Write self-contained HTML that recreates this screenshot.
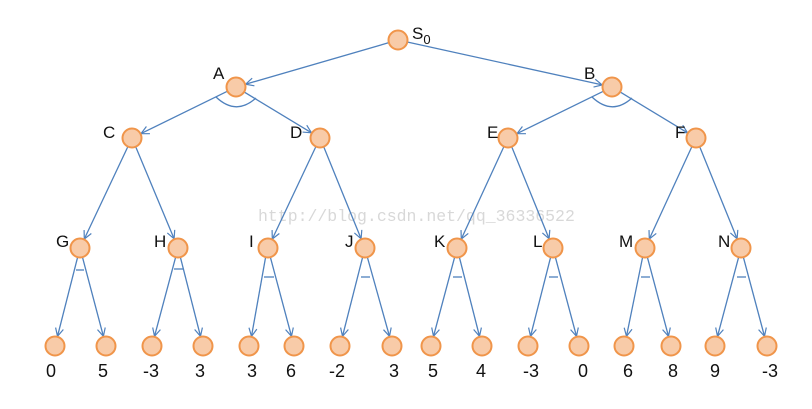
<!DOCTYPE html>
<html><head><meta charset="utf-8"><style>
html,body{margin:0;padding:0;background:#fff;}
svg{display:block;}
text{font-family:"Liberation Sans",sans-serif;fill:#111;}
</style></head><body>
<svg width="812" height="409" viewBox="0 0 812 409" xmlns="http://www.w3.org/2000/svg">
<defs>
<marker id="ar" markerWidth="10" markerHeight="10" refX="9" refY="5" orient="auto" markerUnits="userSpaceOnUse">
<path d="M1,1 L9,5 L1,9" fill="none" stroke="#4f81bd" stroke-width="1.2"/>
</marker>
</defs>
<text x="258" y="221" font-size="16.5" style="font-family:'Liberation Mono',monospace;fill:#d8d8d8">http://blog.csdn.net/qq_36336522</text>
<g stroke="#4f81bd" stroke-width="1.3" fill="none" marker-end="url(#ar)">
<line x1="388.4" y1="42.8" x2="245.6" y2="84.2"/>
<line x1="407.8" y1="42.1" x2="602.2" y2="84.9"/>
<line x1="227" y1="91.4" x2="141" y2="133.6"/>
<line x1="244.5" y1="92.2" x2="311.5" y2="132.8"/>
<line x1="603" y1="91.4" x2="517" y2="133.6"/>
<line x1="620.5" y1="92.2" x2="687.5" y2="132.8"/>
<line x1="127.7" y1="147" x2="84.3" y2="239"/>
<line x1="135.9" y1="147.2" x2="174.1" y2="238.8"/>
<line x1="315.7" y1="147" x2="272.3" y2="239"/>
<line x1="323.9" y1="147.2" x2="361.1" y2="238.8"/>
<line x1="503.7" y1="147" x2="461.3" y2="239"/>
<line x1="511.9" y1="147.2" x2="549.1" y2="238.8"/>
<line x1="691.7" y1="147" x2="649.3" y2="239"/>
<line x1="699.9" y1="147.2" x2="737.1" y2="238.8"/>
<line x1="77.5" y1="257.7" x2="57.5" y2="336.3"/>
<line x1="82.6" y1="257.7" x2="103.4" y2="336.3"/>
<line x1="175.5" y1="257.7" x2="154.5" y2="336.3"/>
<line x1="180.5" y1="257.7" x2="200.5" y2="336.3"/>
<line x1="265.5" y1="257.7" x2="251.5" y2="336.3"/>
<line x1="270.5" y1="257.7" x2="291.5" y2="336.3"/>
<line x1="362.5" y1="257.7" x2="342.5" y2="336.3"/>
<line x1="367.5" y1="257.7" x2="389.5" y2="336.3"/>
<line x1="454.5" y1="257.7" x2="433.5" y2="336.3"/>
<line x1="459.5" y1="257.7" x2="479.5" y2="336.3"/>
<line x1="550.5" y1="257.7" x2="530.5" y2="336.3"/>
<line x1="555.5" y1="257.7" x2="576.5" y2="336.3"/>
<line x1="642.5" y1="257.7" x2="626.5" y2="336.3"/>
<line x1="647.5" y1="257.7" x2="668.5" y2="336.3"/>
<line x1="738.5" y1="257.7" x2="717.5" y2="336.3"/>
<line x1="743.5" y1="257.7" x2="764.5" y2="336.3"/>
</g>
<g stroke="#4f81bd" stroke-width="1.3" fill="none">
<path d="M216,97 Q236,116 256,98"/>
<path d="M592,97 Q612,116 632,98"/>
<line x1="76" y1="270" x2="84" y2="270"/>
<line x1="174" y1="269" x2="183" y2="269"/>
<line x1="264" y1="277" x2="274" y2="277"/>
<line x1="361" y1="277" x2="370" y2="277"/>
<line x1="453" y1="277" x2="462" y2="277"/>
<line x1="549" y1="277" x2="558" y2="277"/>
<line x1="641" y1="277" x2="650" y2="277"/>
<line x1="737" y1="277" x2="746" y2="277"/>
</g>
<g fill="#f8cba8" stroke="#f0954a" stroke-width="2">
<circle cx="398" cy="40" r="9.5"/>
<circle cx="236" cy="87" r="9.5"/><circle cx="612" cy="87" r="9.5"/>
<circle cx="132" cy="138" r="9.5"/><circle cx="320" cy="138" r="9.5"/>
<circle cx="508" cy="138" r="9.5"/><circle cx="696" cy="138" r="9.5"/>
<circle cx="80" cy="248" r="9.5"/><circle cx="178" cy="248" r="9.5"/>
<circle cx="268" cy="248" r="9.5"/><circle cx="365" cy="248" r="9.5"/>
<circle cx="457" cy="248" r="9.5"/><circle cx="553" cy="248" r="9.5"/>
<circle cx="645" cy="248" r="9.5"/><circle cx="741" cy="248" r="9.5"/>
<circle cx="55" cy="346" r="9.5"/><circle cx="106" cy="346" r="9.5"/>
<circle cx="152" cy="346" r="9.5"/><circle cx="203" cy="346" r="9.5"/>
<circle cx="249" cy="346" r="9.5"/><circle cx="294" cy="346" r="9.5"/>
<circle cx="340" cy="346" r="9.5"/><circle cx="392" cy="346" r="9.5"/>
<circle cx="431" cy="346" r="9.5"/><circle cx="482" cy="346" r="9.5"/>
<circle cx="528" cy="346" r="9.5"/><circle cx="579" cy="346" r="9.5"/>
<circle cx="624" cy="346" r="9.5"/><circle cx="671" cy="346" r="9.5"/>
<circle cx="715" cy="346" r="9.5"/><circle cx="767" cy="346" r="9.5"/>
</g>
<g font-size="17">
<text x="412" y="39">S<tspan font-size="13" dy="5">0</tspan></text>
<text x="213" y="79">A</text>
<text x="584" y="79">B</text>
<text x="103" y="138">C</text>
<text x="290" y="138">D</text>
<text x="487" y="138">E</text>
<text x="675" y="138">F</text>
<text x="56" y="247">G</text>
<text x="154" y="247">H</text>
<text x="249" y="247">I</text>
<text x="345" y="247">J</text>
<text x="434" y="247">K</text>
<text x="533" y="247">L</text>
<text x="619" y="247">M</text>
<text x="718" y="247">N</text>
</g>
<g font-size="18" text-anchor="middle">
<text x="51" y="377">0</text><text x="103" y="377">5</text>
<text x="151" y="377">-3</text><text x="200" y="377">3</text>
<text x="252" y="377">3</text><text x="291" y="377">6</text>
<text x="337" y="377">-2</text><text x="394" y="377">3</text>
<text x="433" y="377">5</text><text x="481" y="377">4</text>
<text x="531" y="377">-3</text><text x="583" y="377">0</text>
<text x="628" y="377">6</text><text x="673" y="377">8</text>
<text x="715" y="377">9</text><text x="770" y="377">-3</text>
</g>
</svg>
</body></html>
